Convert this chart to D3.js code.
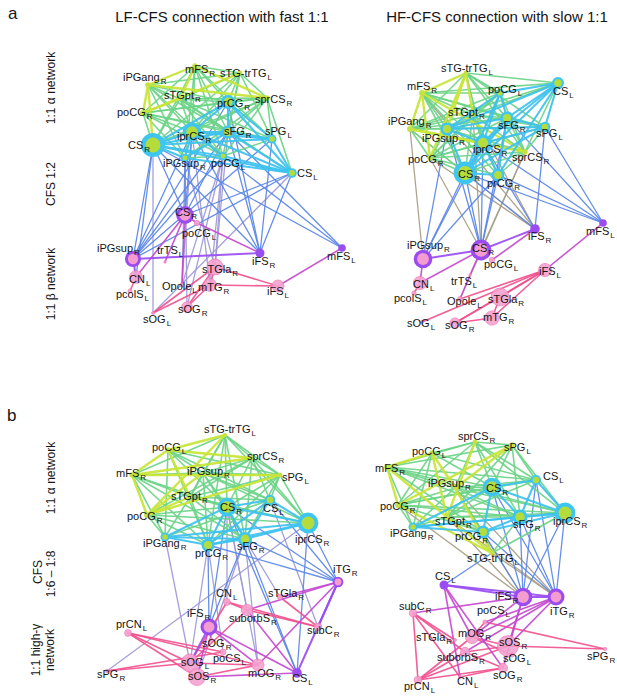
<!DOCTYPE html>
<html>
<head>
<meta charset="utf-8">
<script src="https://cdn.jsdelivr.net/npm/d3@7"></script>
<style>
  body { margin: 0; background: #fff; }
  svg { display: block; }
  text { font-family: "Liberation Sans", Arial, sans-serif; fill: #151515; }
</style>
</head>
<body>
<svg></svg>
<script>
const width = 617;
const height = 699;

// node rows: id, name, subscript, layout x, layout y, kind, strength, label dx, label dy
const aLeftNodes = [
  ["mFSR", "mFS", "R", 105, 6, "a", 5, -10, 7],
  ["sTGtrTGL", "sTG-trTG", "L", 150, 13, "a", 4, -20, 4],
  ["iPGangR", "iPGang", "R", 58, 25, "a", 5, -25, -4],
  ["sTGptR", "sTGpt", "R", 90, 39, "a", 3, -16, 0],
  ["prCGR", "prCG", "R", 138, 42, "c", 35, -11, 5],
  ["sprCSR", "sprCS", "R", 177, 38, "a", 5, -12, 5],
  ["poCGR", "poCG", "R", 53, 53, "a", 6, -26, 3],
  ["iprCSR", "iprCS", "R", 102, 72, "c", 60, -15, 8],
  ["sFGR", "sFG", "R", 138, 72, "c", 30, -4, 3],
  ["sPGL", "sPG", "L", 182, 79, "c", 14, -7, -4],
  ["CSR", "CS", "R", 63, 85, "c", 100, -25, 4],
  ["iPGsupR", "iPGsup", "R", 95, 98, "c", 11, -22, 9],
  ["poCGL", "poCG", "L", 133, 96, "c", 11, -12, 11],
  ["CSL", "CS", "L", 202, 113, "c", 16, 5, 4],
  ["CSR2", "CS", "R", 95, 155, "p", 55, -10, 1],
  ["poCGL2", "poCG", "L", 107, 163, "k", 5, -15, 14],
  ["iPGsupR2", "iPGsup", "R", 43, 199, "p", 45, -36, -7],
  ["trTSL", "trTS", "L", 75, 202, "k", 1, -8, -8],
  ["iFSR2", "iFS", "R", 170, 193, "p", 14, -8, 12],
  ["mFSL", "mFS", "L", 252, 188, "p", 10, -15, 12],
  ["CNL", "CN", "L", 46, 217, "k", 28, -7, 6],
  ["pcolSL", "pcolS", "L", 40, 231, "k", 3, -14, 7],
  ["sTGlaR", "sTGla", "R", 125, 207, "k", 45, -13, 6],
  ["mTGR", "mTG", "R", 120, 225, "k", 28, -12, 6],
  ["OpoleL", "Opole", "L", 92, 225, "k", 3, -20, 5],
  ["iFSL", "iFS", "L", 188, 226, "k", 25, -11, 9],
  ["sOGR", "sOG", "R", 97, 247, "k", 20, -9, 6],
  ["sOGL", "sOG", "L", 63, 253, "k", 1.5, -10, 10]
];

const aLeftLinks = [
  "iPGangR mFSR y", "iPGangR sprCSR y", "poCGR sTGtrTGL y", "iPGangR CSR y", "mFSR sTGptR y",
  "poCGR sTGptR y", "mFSR sprCSR y", "poCGR iPGangR y",
  "mFSR sTGtrTGL g", "mFSR prCGR g", "mFSR poCGR g", "mFSR iprCSR g", "mFSR sFGR g", "mFSR sPGL g",
  "mFSR CSR g", "mFSR iPGsupR g", "mFSR poCGL g", "sTGtrTGL iPGangR g", "sTGtrTGL sTGptR g",
  "sTGtrTGL prCGR g", "sTGtrTGL sprCSR g", "sTGtrTGL iprCSR g", "sTGtrTGL sFGR g", "sTGtrTGL CSR g",
  "sTGtrTGL poCGL g", "sTGtrTGL sPGL g", "iPGangR sTGptR g", "iPGangR prCGR g", "iPGangR iprCSR g",
  "iPGangR sFGR g", "iPGangR poCGL g", "iPGangR iPGsupR g", "sTGptR prCGR g", "sTGptR sprCSR g",
  "sTGptR iprCSR g", "sTGptR sFGR g", "sTGptR sPGL g", "sTGptR CSR g", "sTGptR poCGL g", "sTGptR CSL g",
  "prCGR sprCSR g", "prCGR poCGR g", "sprCSR poCGR g", "sprCSR iprCSR g", "sprCSR sFGR g",
  "sprCSR sPGL g", "sprCSR CSR g", "sprCSR iPGsupR g", "sprCSR poCGL g", "sprCSR CSL g",
  "poCGR iprCSR g", "poCGR sFGR g", "poCGR CSR g", "poCGR poCGL g", "poCGR sPGL g", "poCGR iPGsupR g",
  "iPGsupR poCGL g", "sPGL poCGL g",
  "CSR iprCSR c", "CSR sFGR c", "CSR sPGL c", "CSR poCGL c", "CSR CSL c", "CSR prCGR c", "CSR iPGsupR c",
  "iprCSR sFGR c", "iprCSR CSL c", "iprCSR sPGL c", "iprCSR prCGR c", "iprCSR poCGL c", "iprCSR iPGsupR c",
  "sFGR prCGR c", "sFGR CSL c", "sFGR sPGL c", "sFGR iPGsupR c", "prCGR CSL c", "prCGR sPGL c",
  "iPGsupR CSL c", "poCGL CSL c", "sPGL CSL c",
  "CSR iPGsupR2 b", "CSR CSR2 b", "CSR iFSR2 b", "iprCSR iPGsupR2 b", "iprCSR CSR2 b", "iprCSR iFSR2 b",
  "sFGR iPGsupR2 b", "sFGR CSR2 b", "sFGR iFSR2 b", "prCGR iPGsupR2 b", "prCGR iFSR2 b", "CSL CSR2 b",
  "CSL iPGsupR2 b", "sPGL iFSR2 b", "sPGL iPGsupR2 b", "iprCSR mFSL b", "CSR mFSL b", "sFGR mFSL b",
  "CSL iFSR2 b", "iPGsupR CSR2 b", "poCGL iPGsupR2 b", "CSR CNL b",
  "poCGL sTGlaR l", "poCGL mTGR l", "iPGsupR sTGlaR l", "iPGsupR OpoleL l", "sFGR sTGlaR l", "CSR sOGL l",
  "poCGL sOGR l", "iprCSR mTGR l", "CSL sOGL l", "iprCSR OpoleL l", "poCGL OpoleL l", "iPGsupR sOGR l",
  "iPGsupR2 iFSR2 p", "iPGsupR2 CNL p",
  "CSR2 CNL m", "CSR2 poCGL2 m", "poCGL2 iFSR2 m", "CSR2 OpoleL m", "mFSL iFSL m", "CSR2 trTSL m",
  "sTGlaR iFSL k", "mTGR iFSL k", "sTGlaR sOGR k", "mTGR sOGR k", "sTGlaR sOGL k", "sTGlaR mTGR k",
  "CNL pcolSL k", "mTGR sOGL k"
];

const aRightNodes = [
  ["sTGtrTGL", "sTG-trTG", "L", 96, 13, "a", 4, -25, -1],
  ["mFSR", "mFS", "R", 52, 33, "a", 6, -15, -3],
  ["poCGL", "poCG", "L", 130, 33, "c", 12, -12, 0],
  ["CSL", "CS", "L", 188, 23, "c", 25, -5, 12],
  ["sTGptR", "sTGpt", "R", 103, 55, "a", 3, -25, 1],
  ["sFGR", "sFG", "R", 137, 58, "c", 30, -9, 11],
  ["iPGangR", "iPGang", "R", 40, 69, "a", 6, -22, -4],
  ["iPGsupR", "iPGsup", "R", 77, 69, "c", 30, -25, 13],
  ["sPGL", "sPG", "L", 175, 67, "c", 20, -9, 10],
  ["iprCSR", "iprCS", "R", 113, 83, "c", 50, -10, 10],
  ["sprCSR", "sprCS", "R", 155, 92, "a", 5, -13, 9],
  ["poCGR", "poCG", "R", 60, 98, "a", 5, -22, 5],
  ["CSR", "CS", "R", 95, 113, "c", 90, -7, 5],
  ["prCGR", "prCG", "R", 128, 115, "c", 28, -11, 12],
  ["iFSR2", "iFS", "R", 165, 169, "p", 16, -7, 11],
  ["mFSL", "mFS", "L", 233, 163, "p", 10, -17, 12],
  ["iPGsupR2", "iPGsup", "R", 53, 199, "p", 60, -16, -10],
  ["CSR2", "CS", "R", 111, 190, "p", 75, -9, 2],
  ["poCGL2", "poCG", "L", 122, 200, "k", 5, -8, 8],
  ["CNL", "CN", "L", 50, 223, "k", 30, -7, 5],
  ["pcolSL", "pcolS", "L", 44, 233, "k", 3, -20, 9],
  ["iFSL", "iFS", "L", 175, 210, "k", 30, -6, 5],
  ["trTSL", "trTS", "L", 100, 215, "k", 1, -19, 10],
  ["OpoleL", "Opole", "L", 90, 239, "k", 4, -13, 6],
  ["sTGlaR", "sTGla", "R", 130, 237, "k", 55, -12, 6],
  ["mTGR", "mTG", "R", 122, 258, "k", 35, -9, 3],
  ["sOGL", "sOG", "L", 52, 262, "k", 1.5, -15, 5],
  ["sOGR", "sOG", "R", 85, 263, "k", 18, -10, 6]
];

const aRightLinks = [
  "sTGtrTGL mFSR y", "mFSR iPGangR y", "mFSR poCGR y", "sTGtrTGL poCGR y", "sTGtrTGL iPGsupR y",
  "iPGangR sprCSR y", "mFSR sprCSR y", "iPGangR iprCSR y", "sTGtrTGL sTGptR y",
  "sTGtrTGL poCGL g", "sTGtrTGL CSL g", "sTGtrTGL sFGR g", "sTGtrTGL iPGangR g", "sTGtrTGL iprCSR g",
  "sTGtrTGL sprCSR g", "sTGtrTGL sPGL g", "mFSR poCGL g", "mFSR CSL g", "mFSR sTGptR g", "mFSR sFGR g",
  "mFSR iPGsupR g", "mFSR iprCSR g", "mFSR CSR g", "mFSR prCGR g", "mFSR sPGL g", "poCGL sTGptR g",
  "poCGL iPGangR g", "poCGL sprCSR g", "poCGL poCGR g", "CSL sTGptR g", "CSL iPGangR g", "CSL sprCSR g",
  "sTGptR sFGR g", "sTGptR iPGangR g", "sTGptR iPGsupR g", "sTGptR sPGL g", "sTGptR iprCSR g",
  "sTGptR sprCSR g", "sTGptR poCGR g", "sTGptR CSR g", "sTGptR prCGR g", "sFGR iPGangR g",
  "sFGR sprCSR g", "sFGR poCGR g", "iPGangR iPGsupR g", "iPGangR poCGR g", "iPGangR CSR g",
  "iPGangR sPGL g", "iPGsupR sprCSR g", "iPGsupR poCGR g", "sPGL sprCSR g", "sPGL poCGR g",
  "iprCSR sprCSR g", "iprCSR poCGR g", "sprCSR poCGR g", "sprCSR CSR g", "sprCSR prCGR g",
  "poCGR CSR g", "poCGR prCGR g",
  "CSR iprCSR c", "CSR prCGR c", "CSR sFGR c", "CSR iPGsupR c", "CSR sPGL c", "CSR CSL c", "CSR poCGL c",
  "iprCSR sFGR c", "iprCSR CSL c", "iprCSR sPGL c", "iprCSR poCGL c", "iprCSR prCGR c", "iprCSR iPGsupR c",
  "iPGsupR sFGR c", "iPGsupR sPGL c", "sFGR CSL c", "sFGR poCGL c", "sPGL CSL c", "prCGR CSL c",
  "prCGR sFGR c", "iPGsupR CSL c", "iPGsupR poCGL c", "CSL poCGL c", "sFGR sPGL c",
  "CSR iPGsupR2 b", "iprCSR iPGsupR2 b", "iPGsupR iPGsupR2 b", "prCGR iPGsupR2 b", "CSR CSR2 b",
  "iprCSR CSR2 b", "prCGR CSR2 b", "sFGR CSR2 b", "iPGsupR CSR2 b", "CSR iFSR2 b", "iprCSR iFSR2 b",
  "sPGL iFSR2 b", "iprCSR mFSL b", "CSR mFSL b", "prCGR mFSL b", "sFGR mFSL b", "sPGL mFSL b",
  "iPGangR iPGsupR2 t", "poCGR iFSR2 t", "sTGptR iFSR2 t", "iPGangR iFSR2 t", "sprCSR CSR2 t",
  "sTGptR CSR2 t", "poCGR CSR2 t", "sprCSR OpoleL t", "mFSR iFSR2 t",
  "iPGsupR2 CSR2 p", "CSR2 iFSR2 p",
  "iPGsupR2 CNL m", "CSR2 CNL m", "CSR2 trTSL m", "trTSL OpoleL m", "iFSR2 poCGL2 m", "mFSL iFSL m",
  "iFSL sOGL k", "iFSL OpoleL k", "iFSL sTGlaR k", "iFSL mTGR k", "iFSL sOGR k", "sTGlaR sOGR k",
  "mTGR sOGR k", "sTGlaR mTGR k", "CNL pcolSL k"
];

const bLeftNodes = [
  ["sTGtrTGL", "sTG-trTG", "L", 135, 15, "a", 3, -21, -2],
  ["poCGL", "poCG", "L", 78, 30, "a", 5, -16, 1],
  ["sprCSR", "sprCS", "R", 162, 38, "a", 4, -5, 2],
  ["mFSR", "mFS", "R", 42, 55, "a", 5, -16, 2],
  ["iPGsupR", "iPGsup", "R", 113, 53, "a", 3, -16, 2],
  ["sPGL", "sPG", "L", 190, 55, "a", 4, 2, 6],
  ["sTGptR", "sTGpt", "R", 100, 77, "a", 3, -19, 3],
  ["CSR", "CS", "R", 137, 87, "c", 60, -7, 4],
  ["CSL", "CS", "L", 180, 80, "c", 20, -7, 12],
  ["poCGR", "poCG", "R", 57, 95, "a", 6, -20, 5],
  ["iprCSR", "iprCS", "R", 218, 103, "c", 75, -13, 20],
  ["iPGangR", "iPGang", "R", 75, 117, "c", 14, -22, 10],
  ["prCGR", "prCG", "R", 118, 125, "c", 30, -13, 12],
  ["sFGR", "sFG", "R", 155, 119, "c", 35, -8, 11],
  ["iTGR", "iTG", "R", 248, 162, "p", 20, -5, -9],
  ["CNL", "CN", "L", 137, 182, "k", 8, -11, -5],
  ["sTGlaR", "sTGla", "R", 190, 177, "k", 5, -12, 0],
  ["suborbSR", "suborbS", "R", 157, 190, "k", 22, -18, 12],
  ["iFSR2", "iFS", "R", 119, 207, "p", 50, -22, -10],
  ["prCNL", "prCN", "L", 38, 213, "k", 8, -12, -5],
  ["subCR", "subC", "R", 228, 207, "k", 10, -11, 7],
  ["sOGR", "sOG", "R", 121, 220, "k", 3, -9, 7],
  ["poCSL", "poCS", "L", 133, 232, "k", 6, -10, 10],
  ["sOGL", "sOG", "L", 100, 243, "k", 55, -9, 3],
  ["sOSR", "sOS", "R", 107, 257, "k", 50, -9, 3],
  ["mOGR", "mOG", "R", 168, 245, "k", 25, -10, 12],
  ["CSL2", "CS", "L", 207, 253, "p", 16, -5, 9],
  ["sPGR", "sPG", "R", 17, 251, "k", 2, -10, 7]
];

const bLeftLinks = [
  "poCGL mFSR y", "poCGL sprCSR y", "mFSR poCGR y", "mFSR sPGL y", "sTGtrTGL poCGR y", "poCGL sTGptR y",
  "poCGR sPGL y", "iPGsupR poCGR y", "poCGL sTGtrTGL y", "mFSR sprCSR y", "sTGptR poCGR y",
  "sTGtrTGL sprCSR g", "sTGtrTGL mFSR g", "sTGtrTGL iPGsupR g", "sTGtrTGL sPGL g", "sTGtrTGL sTGptR g",
  "sTGtrTGL CSR g", "sTGtrTGL iprCSR g", "sTGtrTGL prCGR g", "sTGtrTGL sFGR g", "poCGL iPGsupR g",
  "poCGL sPGL g", "poCGL CSR g", "poCGL iPGangR g", "poCGL prCGR g", "poCGL CSL g", "sprCSR iPGsupR g",
  "sprCSR sPGL g", "sprCSR sTGptR g", "sprCSR CSR g", "sprCSR CSL g", "sprCSR iprCSR g", "sprCSR poCGR g",
  "sprCSR sFGR g", "mFSR iPGsupR g", "mFSR sTGptR g", "mFSR CSR g", "mFSR iPGangR g", "mFSR prCGR g",
  "mFSR sFGR g", "iPGsupR sPGL g", "iPGsupR sTGptR g", "iPGsupR CSR g", "iPGsupR CSL g",
  "iPGsupR iprCSR g", "iPGsupR prCGR g", "iPGsupR sFGR g", "sPGL sTGptR g", "sPGL CSR g", "sPGL CSL g",
  "sPGL iprCSR g", "sPGL prCGR g", "sPGL sFGR g", "sTGptR CSR g", "sTGptR CSL g", "sTGptR iprCSR g",
  "sTGptR iPGangR g", "sTGptR prCGR g", "sTGptR sFGR g", "poCGR CSR g", "poCGR iPGangR g",
  "poCGR prCGR g", "poCGR sFGR g", "poCGR iprCSR g", "CSL iPGangR g",
  "CSR iprCSR c", "CSR CSL c", "CSR sFGR c", "CSR prCGR c", "CSR iPGangR c", "iprCSR sFGR c",
  "iprCSR prCGR c", "iprCSR iPGangR c", "iprCSR CSL c", "CSL sFGR c", "CSL prCGR c", "sFGR prCGR c",
  "sFGR iPGangR c", "prCGR iPGangR c",
  "CSR iFSR2 b", "sFGR iFSR2 b", "prCGR iFSR2 b", "sFGR iTGR b", "prCGR iTGR b", "CSR iTGR b",
  "iprCSR iTGR b", "sFGR CSL2 b", "iprCSR CSL2 b", "CSL iTGR b", "CSR CSL2 b",
  "iPGangR sOGL l", "iprCSR sPGR l", "sFGR mOGR l", "CSL subCR l", "CSR suborbSR l", "prCGR poCSL l",
  "sFGR sTGlaR l", "CSR CNL l", "prCGR sOGL l", "CSR mOGR l", "sFGR sOSR l",
  "iTGR CSL2 p", "iTGR subCR p", "iFSR2 sOGL p",
  "iTGR sTGlaR m", "iTGR suborbSR m", "iTGR mOGR m", "iFSR2 CSL2 m", "iFSR2 mOGR m", "CSL2 sOSR m",
  "suborbSR CSL2 m", "iFSR2 sOSR m", "iFSR2 sOGR m",
  "prCNL sOGL k", "prCNL sOSR k", "prCNL mOGR k", "sPGR sOGL k", "sPGR poCSL k", "CNL subCR k",
  "suborbSR subCR k", "sTGlaR subCR k", "suborbSR sOGL k", "sOGL mOGR k", "sOSR mOGR k",
  "CNL suborbSR k", "CNL sOGL k", "prCNL poCSL k"
];

const bRightNodes = [
  ["sprCSR", "sprCS", "R", 105, 22, "a", 4, -17, -2],
  ["sPGL", "sPG", "L", 142, 25, "a", 5, -8, 6],
  ["poCGL", "poCG", "L", 62, 33, "a", 5, -20, 2],
  ["mFSR", "mFS", "R", 17, 47, "a", 5, -12, 5],
  ["CSL", "CS", "L", 166, 60, "c", 18, 7, 0],
  ["iPGsupR", "iPGsup", "R", 85, 68, "a", 3, -27, -1],
  ["CSR", "CS", "R", 122, 67, "c", 60, -6, 5],
  ["poCGR", "poCG", "R", 28, 85, "a", 6, -18, 5],
  ["iprCSR", "iprCS", "R", 195, 93, "c", 75, -12, 12],
  ["sTGptR", "sTGpt", "R", 77, 97, "a", 5, -12, 8],
  ["sFGR", "sFG", "R", 150, 97, "c", 40, -7, 11],
  ["iPGangR", "iPGang", "R", 43, 107, "c", 14, -23, 10],
  ["prCGR", "prCG", "R", 113, 112, "c", 30, -28, 8],
  ["sTGtrTGL", "sTG-trTG", "L", 122, 133, "a", 5, -25, 9],
  ["CSL2", "CS", "L", 74, 165, "p", 14, -9, -5],
  ["iFSR2", "iFS", "R", 153, 177, "p", 60, -28, 3],
  ["iTGR", "iTG", "R", 186, 177, "p", 50, -6, 18],
  ["subCR", "subC", "R", 43, 193, "k", 10, -14, -3],
  ["poCSL", "poCS", "L", 115, 202, "k", 3, -8, -8],
  ["mOGR", "mOG", "R", 102, 217, "k", 30, -14, 0],
  ["sOSR", "sOS", "R", 138, 226, "k", 75, -9, 0],
  ["suborbSR", "suborbS", "R", 95, 232, "k", 15, -28, 9],
  ["sTGlaR", "sTGla", "R", 85, 220, "k", 1.5, -39, 1],
  ["sOGL", "sOG", "L", 142, 235, "k", 3, -9, 7],
  ["sPGR", "sPG", "R", 235, 229, "k", 2, -18, 11],
  ["sOGR", "sOG", "R", 133, 248, "k", 15, -10, 11],
  ["prCNL", "prCN", "L", 48, 260, "k", 10, -14, 10],
  ["CNL", "CN", "L", 90, 257, "k", 1.5, -3, 8]
];

const bRightLinks = [
  "poCGL mFSR y", "mFSR poCGR y", "mFSR sTGptR y", "poCGL sTGptR y", "sPGL poCGR y", "sprCSR sTGptR y",
  "sTGptR sTGtrTGL y", "iPGsupR sTGtrTGL y", "poCGL iPGsupR y", "poCGR sTGtrTGL y", "sPGL iPGsupR y",
  "sprCSR poCGL g", "sprCSR mFSR g", "sprCSR sPGL g", "sprCSR CSL g", "sprCSR iPGsupR g", "sprCSR CSR g",
  "sprCSR iprCSR g", "sprCSR poCGR g", "sprCSR sFGR g", "sPGL mFSR g", "sPGL CSL g", "sPGL CSR g",
  "sPGL iprCSR g", "sPGL sTGptR g", "sPGL sFGR g", "poCGL CSL g", "poCGL CSR g", "poCGL poCGR g",
  "poCGL iPGangR g", "mFSR iPGsupR g", "mFSR CSR g", "mFSR CSL g", "mFSR iprCSR g", "mFSR iPGangR g",
  "mFSR sFGR g", "mFSR prCGR g", "CSL iPGsupR g", "CSL poCGR g", "CSL sTGptR g", "iPGsupR CSR g",
  "iPGsupR iprCSR g", "iPGsupR sFGR g", "iPGsupR iPGangR g", "iPGsupR poCGR g", "iPGsupR prCGR g",
  "CSR poCGR g", "CSR sTGptR g", "poCGR iprCSR g", "poCGR iPGangR g", "poCGR prCGR g", "poCGR sFGR g",
  "iprCSR sTGptR g", "iprCSR sTGtrTGL g", "sTGptR sFGR g", "sTGptR iPGangR g", "sTGptR prCGR g",
  "sFGR sTGtrTGL g", "prCGR sTGtrTGL g",
  "CSR iprCSR c", "CSR sFGR c", "CSR prCGR c", "CSR CSL c", "CSR iPGangR c", "iprCSR sFGR c",
  "iprCSR CSL c", "iprCSR prCGR c", "iPGangR sFGR c", "iPGangR prCGR c", "sFGR prCGR c", "CSL sFGR c",
  "iprCSR iPGangR c",
  "CSR iFSR2 b", "sFGR iFSR2 b", "sFGR iTGR b", "CSL iTGR b", "iprCSR iTGR b", "iprCSR iFSR2 b",
  "prCGR iFSR2 b", "CSR iTGR b", "sTGtrTGL CSL2 b", "prCGR iTGR b", "CSL iFSR2 b",
  "iPGsupR iFSR2 t", "sTGptR iTGR t", "poCGR iFSR2 t", "iPGsupR iTGR t", "sTGtrTGL iTGR t",
  "sTGptR iFSR2 t",
  "CSL2 iFSR2 p", "iFSR2 iTGR p", "CSL2 iTGR p",
  "subCR iFSR2 m", "CSL2 mOGR m", "CSL2 sOGR m", "CSL2 CNL m", "iFSR2 mOGR m", "iTGR mOGR m",
  "iTGR suborbSR m", "iFSR2 sOSR m", "iTGR sOSR m", "iFSR2 sOGR m", "iTGR poCSL m",
  "subCR sTGlaR k", "subCR suborbSR k", "subCR CNL k", "subCR prCNL k", "prCNL sOSR k", "prCNL sOGR k",
  "prCNL mOGR k", "prCNL suborbSR k", "suborbSR sOSR k", "mOGR sOSR k", "sOSR sPGR k", "poCSL sPGR k",
  "mOGR poCSL k", "suborbSR sOGR k", "CNL sOGR k", "mOGR sOGL k"
];

const panelTitles = ["LF-CFS connection with fast 1:1", "HF-CFS connection with slow 1:1"];

let svg = d3.select("svg")
    .attr("width", width)
    .attr("height", height);

// edge type -> colour / width, drawn in this order
const linkTypes = ["t", "l", "b", "k", "m", "p", "g", "y", "c"];
const linkColor = d3.scaleOrdinal()
    .domain(linkTypes)
    .range(["#a89f86", "#9e99d6", "#5a86e8", "#f2528f", "#c64ad0", "#9a4ef2", "#6dd488", "#c8e636", "#3dc2ef"]);
const linkWidth = d3.scaleOrdinal()
    .domain(linkTypes)
    .range([1.3, 1.3, 1.3, 1.6, 1.6, 2, 1.6, 2.4, 2.1]);

const rScale = d3.scaleSqrt().domain([0, 100]).range([0, 12]);

const panels = [
  {nodes: aLeftNodes, links: aLeftLinks, x0: 90, y0: 60},
  {nodes: aRightNodes, links: aRightLinks, x0: 370, y0: 60},
  {nodes: bLeftNodes, links: bLeftLinks, x0: 90, y0: 420},
  {nodes: bRightNodes, links: bRightLinks, x0: 370, y0: 420}
];

function drawNetwork(p) {
  const scX = d3.scaleLinear().domain([0, 260]).range([p.x0, p.x0 + 260]);
  const scY = d3.scaleLinear().domain([0, 280]).range([p.y0, p.y0 + 280]);

  const nodes = p.nodes.map(d => ({id: d[0], name: d[1], sub: d[2], x: d[3], y: d[4], kind: d[5], w: d[6], dx: d[7], dy: d[8]}));
  const byId = new Map(nodes.map(d => [d.id, d]));
  const links = p.links.map(s => {
    const [a, b, t] = s.split(" ");
    return {s: byId.get(a), t: byId.get(b), type: t};
  }).filter(d => d.s && d.t);
  links.sort((a, b) => linkTypes.indexOf(a.type) - linkTypes.indexOf(b.type));

  const g = svg.append("g");

  // рёбра
  g.selectAll(".link")
    .data(links)
    .enter()
    .append("line")
    .attr("x1", d => scX(d.s.x))
    .attr("y1", d => scY(d.s.y))
    .attr("x2", d => scX(d.t.x))
    .attr("y2", d => scY(d.t.y))
    .attr("stroke", d => linkColor(d.type))
    .attr("stroke-width", d => linkWidth(d.type))
    .attr("stroke-linecap", "round")
    .attr("opacity", 0.92);

  // узлы
  const node = g.selectAll(".node")
    .data(nodes)
    .enter()
    .append("g")
    .attr("transform", d => `translate(${scX(d.x)}, ${scY(d.y)})`);

  node.append("circle")
    .attr("r", d => rScale(d.w))
    .attr("fill", d => d.kind == "a" ? "#c5e244" : d.kind == "c" ? "#3fc6f0" : d.kind == "p" ? "#9b4cf0" : "#f6a3d0")
    .attr("stroke", d => d.kind == "k" ? "#f07ab6" : "none")
    .attr("stroke-width", 0.8)
    .attr("opacity", d => d.kind == "k" ? 0.9 : 1);

  node.filter(d => d.kind == "c")
    .append("circle")
    .attr("r", d => rScale(d.w) * 0.62)
    .attr("fill", "#b4dd3c");

  node.filter(d => d.kind == "p" && rScale(d.w) > 5)
    .append("circle")
    .attr("r", d => rScale(d.w) * 0.64)
    .attr("fill", "#f49bd0");

  // подписи
  const label = g.selectAll(".label")
    .data(nodes)
    .enter()
    .append("text")
    .attr("x", d => scX(d.x) + d.dx)
    .attr("y", d => scY(d.y) + d.dy)
    .style("font-size", "11px");
  label.append("tspan").text(d => d.name);
  label.append("tspan")
    .attr("dy", 3)
    .attr("dx", 1)
    .style("font-size", "8px")
    .text(d => d.sub);
}

panels.forEach(drawNetwork);

// заголовки
svg.append("text").attr("x", 8).attr("y", 19).style("font-size", "17px").text("a");
svg.append("text").attr("x", 7).attr("y", 421).style("font-size", "17px").text("b");
svg.append("text").attr("x", 222).attr("y", 22).attr("text-anchor", "middle")
    .style("font-size", "15px").text(panelTitles[0]);
svg.append("text").attr("x", 497).attr("y", 22).attr("text-anchor", "middle")
    .style("font-size", "15px").text(panelTitles[1]);

// подписи слева (повёрнутые)
const sideLabels = [
  ["1:1 α network", 55, 88], ["CFS 1:2", 55, 184], ["1:1 β network", 55, 284],
  ["1:1 α network", 55, 478], ["CFS", 42, 572], ["1:6 – 1:8", 55, 574],
  ["1:1 high-γ", 40, 650], ["network", 54, 650]
];
svg.selectAll(".side")
  .data(sideLabels)
  .enter()
  .append("text")
  .attr("transform", d => `translate(${d[1]}, ${d[2]}) rotate(-90)`)
  .attr("text-anchor", "middle")
  .style("font-size", "12px")
  .text(d => d[0]);
</script>
</body>
</html>
